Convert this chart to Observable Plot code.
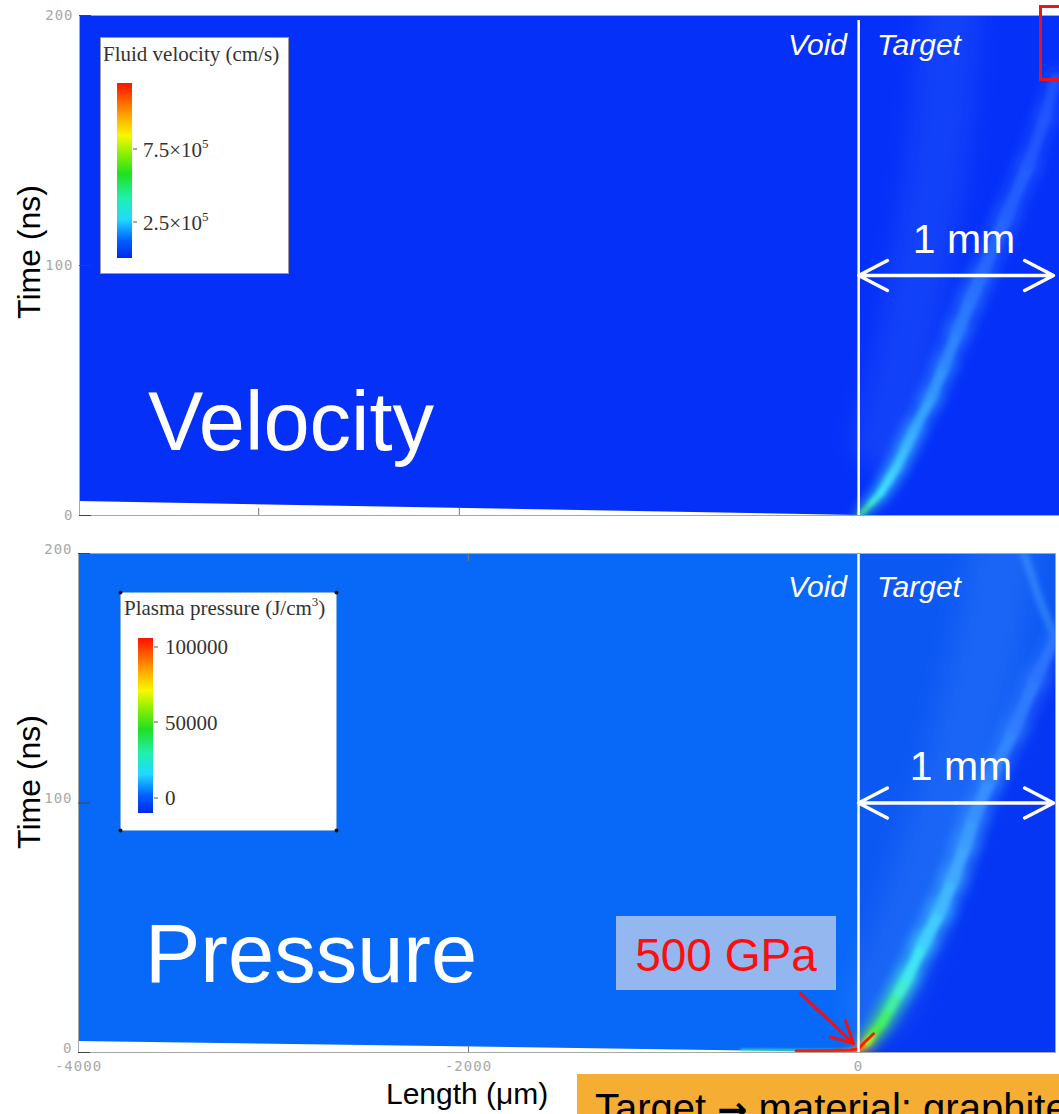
<!DOCTYPE html>
<html><head><meta charset="utf-8">
<script src="https://cdn.jsdelivr.net/npm/d3@7"></script>
<script src="https://cdn.jsdelivr.net/npm/@observablehq/plot@0.6"></script>
<style>
body{margin:0;background:#fff;}
#wrap{position:relative;width:1059px;height:1114px;overflow:hidden;background:#fff;font-family:"Liberation Sans",Arial,sans-serif;}
#wrap > svg{position:absolute;left:0;}
</style></head><body><div id="wrap"></div>
<script>
// ---- axes ----
const yTicks = [0, 100, 200];
const xTicksBottom = [-4000, -2000, 0];
const xTicksTopPanel = [-3080, -2050];
const xInnerTicksBottom = [-2000];

// ---- white (empty) wedge at the bottom-left: length (µm), time (ns) ----
const wedgeTopX = [-4000, 0];
const wedgeTopT = [5.6, 0];
const wedgeBotX = [-4000, 0];
const wedgeBotT = [4.4, 0];

// ---- velocity front (top panel) ----
const velT = [0, 1, 5, 9, 14, 20, 27, 34, 47, 60, 74, 87, 96, 120, 140, 160, 175];
const velX = [0, 18, 65, 113, 152, 199, 241, 284, 371, 440, 511, 578, 630, 760, 870, 960, 1010];
const velC = ["#40e040","#40f0a0","#40f0e0","#40e8ff","#40d8ff","#40c8ff","#3cb8ff","#38a8ff","#3498ff","#3088ff","#2c7cff","#2a72ff","#2868ff","#2460ff","#2258ff","#2054ff","#1e50ff"];
const velW = [3, 4, 5, 6, 7, 7, 8, 8, 9, 9, 10, 10, 10, 10, 9, 8, 8];
const velGlowT = [30, 60, 100, 140, 180, 200];
const velGlowX = [120, 220, 320, 400, 450, 470];

// ---- pressure front (bottom panel) ----
const presT = [0, 1.6, 4, 7.6, 12, 18, 24, 30, 43.6, 57, 70, 83.6, 94, 110, 130, 150, 166];
const presX = [0, 10, 45, 77, 120, 164, 208, 251, 333, 420, 487, 549, 590, 680, 800, 910, 1010];
const presC = ["#ff2000","#ff9000","#a0ff20","#50f040","#40f070","#40f0a0","#40f0d0","#40e8f0","#40d0ff","#40b8ff","#40a8ff","#3c9cff","#3890ff","#3486ff","#307cff","#2c74ff","#2a70ff"];
const presW = [4, 5, 6, 7, 8, 8, 9, 9, 10, 10, 10, 10, 10, 10, 10, 9, 9];
const presGlowT = [20, 50, 90, 130, 170, 200];
const presGlowX = [100, 250, 420, 560, 680, 740];
const redX = [-320, -150, -40, 0, 30, 77];
const redT = [0.7, 0.8, 1.0, 1.5, 4, 7.5];
const edgeGlowX = [-600, -300, -100, 0];
const edgeGlowT = [0.9, 0.8, 0.8, 1.2];
const reflT = [166, 180, 195, 200];
const reflX = [1010, 935, 870, 848];

// ---- annotations (data coords) ----
const scaleBarTopT = 96, scaleBarBotT = 100, scaleBarLen = 1000;
const gpaArrow = [{x1: -297, t1: 23.6, x2: -26, t2: 3.6}];

const pts = (X, T) => X.map((x, i) => ({x, t: T[i]}));
const segs = (X, T, C, W, k = 1) => X.slice(1).map((x, i) => ({x1: X[i], y1: T[i], x2: x, y2: T[i + 1], c: C[i], w: W[i] * k}));

function finish(svg, p) {
  const ns = "http://www.w3.org/2000/svg";
  const defs = document.createElementNS(ns, "defs");
  [["s1", 1.2], ["s2", 2], ["s3", 3], ["s6", 6], ["s12", 12]].forEach(([id, sd]) => {
    const f = document.createElementNS(ns, "filter");
    f.setAttribute("id", p + id);
    f.setAttribute("filterUnits", "userSpaceOnUse");
    f.setAttribute("x", "0"); f.setAttribute("y", "0");
    f.setAttribute("width", "1100"); f.setAttribute("height", "600");
    const g = document.createElementNS(ns, "feGaussianBlur");
    g.setAttribute("stdDeviation", sd);
    f.appendChild(g); defs.appendChild(f);
  });
  svg.insertBefore(defs, svg.firstChild);
  svg.querySelectorAll("[aria-description]").forEach(el => {
    const d = el.getAttribute("aria-description");
    if (/^s\d+$/.test(d)) el.setAttribute("filter", `url(#${p}${d})`);
  });
  svg.querySelectorAll("text").forEach(t => {
    t.style.fontSize = "14px";
    t.style.fontFamily = "DejaVu Sans Mono";
    t.style.letterSpacing = "1px";
  });
}

const plotStyle = {background: "transparent"};
const fmt = d => String(d);
const yAxis = (pad) => [
  Plot.axisY(yTicks, {anchor: "left", tickSize: 0, tickPadding: 6, tickFormat: fmt, color: "#a8a8a8", dy: pad}),
  Plot.axisY(yTicks, {anchor: "left", tickSize: 12, dx: 12, tickFormat: () => "", color: "#444"})
];
const linkOpts = {x1: "x1", y1: "y1", x2: "x2", y2: "y2", stroke: "c", strokeWidth: "w", strokeLinecap: "round", clip: true};

// ================= TOP PANEL: velocity =================
const topSvg = Plot.plot({
  width: 1059, height: 530,
  marginLeft: 79, marginRight: 0, marginTop: 15, marginBottom: 15,
  x: {domain: [-4000, 1031]},
  y: {domain: [0, 200]},
  color: {type: "identity"},
  style: plotStyle,
  marks: [
    Plot.frame({fill: "#0530f8"}),
    Plot.line(pts(velGlowX, velGlowT), {x: "x", y: "t", stroke: "#3f80ff", strokeWidth: 60, strokeOpacity: 0.22, curve: "catmull-rom", clip: true, ariaDescription: "s12"}),
    Plot.link(segs(velX, velT, velC, velW, 2.8), {...linkOpts, strokeOpacity: 0.45, ariaDescription: "s6"}),
    Plot.link(segs(velX, velT, velC, velW, 1.2), {...linkOpts, strokeOpacity: 0.9, ariaDescription: "s2"}),
    Plot.areaY(pts(wedgeTopX, wedgeTopT), {x: "x", y1: 0, y2: "t", fill: "white"}),
    Plot.ruleX([0], {y1: 198, y2: 0, stroke: "white", strokeWidth: 2.5}),
    Plot.arrow([{a: scaleBarLen / 2, b: 0}, {a: scaleBarLen / 2, b: scaleBarLen}], {x1: "a", x2: "b", y1: scaleBarTopT, y2: scaleBarTopT, stroke: "white", strokeWidth: 3.5, headLength: 17, headAngle: 55}),
    Plot.frame({stroke: "#a8a8a8"}),
    ...yAxis(0),
    Plot.axisX(xTicksTopPanel, {anchor: "bottom", tickSize: 7, dy: -7, tickFormat: () => "", color: "#777"})
  ]
});
topSvg.style.top = "0px";
finish(topSvg, "t");

// ================= BOTTOM PANEL: pressure =================
const botSvg = Plot.plot({
  width: 1059, height: 540,
  marginLeft: 78, marginRight: 4, marginTop: 15, marginBottom: 26,
  x: {domain: [-4000, 1010]},
  y: {domain: [0, 200]},
  color: {type: "identity"},
  style: plotStyle,
  marks: [
    Plot.rect([{x1: -4000, x2: 0, c: "#0868f8"}, {x1: 0, x2: 1010, c: "#0c58f3"}], {x1: "x1", x2: "x2", y1: 0, y2: 200, fill: "c"}),
    Plot.areaX(pts(presX, presT), {x1: "x", x2: 1010, y: "t", fill: "#0536f4", curve: "catmull-rom", clip: true}),
    Plot.line(pts(presGlowX, presGlowT), {x: "x", y: "t", stroke: "#4a90ff", strokeWidth: 70, strokeOpacity: 0.22, curve: "catmull-rom", clip: true, ariaDescription: "s12"}),
    Plot.line(pts(reflX, reflT), {x: "x", y: "t", stroke: "#4a9cff", strokeWidth: 6, strokeOpacity: 0.7, curve: "catmull-rom", clip: true, ariaDescription: "s3"}),
    Plot.link(segs(presX, presT, presC, presW, 2.8), {...linkOpts, strokeOpacity: 0.45, ariaDescription: "s6"}),
    Plot.link(segs(presX, presT, presC, presW, 1.2), {...linkOpts, strokeOpacity: 0.95, ariaDescription: "s2"}),
    Plot.areaY(pts(wedgeBotX, wedgeBotT), {x: "x", y1: 0, y2: "t", fill: "white"}),
    Plot.line(pts(edgeGlowX, edgeGlowT), {x: "x", y: "t", stroke: "#50f0a0", strokeWidth: 3, strokeOpacity: 0.7, clip: true, ariaDescription: "s1"}),
    Plot.line(pts(redX, redT), {x: "x", y: "t", stroke: "#ff1a00", strokeWidth: 3, clip: true}),
    Plot.ruleX([0], {y1: 200, y2: 0, stroke: "white", strokeWidth: 2.5}),
    Plot.arrow([{a: scaleBarLen / 2, b: 0}, {a: scaleBarLen / 2, b: scaleBarLen}], {x1: "a", x2: "b", y1: scaleBarBotT, y2: scaleBarBotT, stroke: "white", strokeWidth: 3.5, headLength: 17, headAngle: 55}),
    Plot.arrow(gpaArrow, {x1: "x1", y1: "t1", x2: "x2", y2: "t2", stroke: "#ee1111", strokeWidth: 3, headLength: 14, headAngle: 55}),
    Plot.frame({stroke: "#a8a8a8"}),
    ...yAxis(-4),
    Plot.axisX(xTicksBottom, {anchor: "bottom", tickSize: 0, tickPadding: 9, tickFormat: fmt, color: "#a8a8a8"}),
    Plot.axisX(xInnerTicksBottom, {anchor: "bottom", tickSize: 7, dy: -7, tickFormat: () => "", color: "#777"}),
    Plot.axisX(xInnerTicksBottom, {anchor: "top", tickSize: 7, dy: 7, tickFormat: () => "", color: "#777"})
  ]
});
botSvg.style.top = "538px";
finish(botSvg, "b");

const wrap = document.getElementById("wrap");
wrap.appendChild(topSvg);
wrap.appendChild(botSvg);

// ================= overlay annotations =================
const jet = `<stop offset="0" stop-color="#0028e8"/><stop offset="0.1" stop-color="#0060ff"/><stop offset="0.22" stop-color="#20d8ff"/><stop offset="0.34" stop-color="#20f0b0"/><stop offset="0.48" stop-color="#20e020"/><stop offset="0.6" stop-color="#90f000"/><stop offset="0.7" stop-color="#f8f800"/><stop offset="0.82" stop-color="#ffa000"/><stop offset="0.92" stop-color="#ff5000"/><stop offset="1" stop-color="#ff1000"/>`;
const ov = `
<svg width="1059" height="1114" style="top:0;pointer-events:none" xmlns="http://www.w3.org/2000/svg">
<defs><linearGradient id="jet" x1="0" y1="1" x2="0" y2="0">${jet}</linearGradient></defs>
<g font-family="Liberation Sans, Arial, sans-serif" fill="white">
  <text x="148" y="450" font-size="83">Velocity</text>
  <text x="145" y="982" font-size="83">Pressure</text>
  <text x="847" y="55" font-size="30" font-style="italic" text-anchor="end">Void</text>
  <text x="877" y="55" font-size="30" font-style="italic">Target</text>
  <text x="847" y="597" font-size="30" font-style="italic" text-anchor="end">Void</text>
  <text x="877" y="597" font-size="30" font-style="italic">Target</text>
  <text x="964" y="253" font-size="41" text-anchor="middle">1 mm</text>
  <text x="961" y="780" font-size="41" text-anchor="middle">1 mm</text>
</g>
<rect x="1040.5" y="6.5" width="40" height="73" fill="none" stroke="#e8141c" stroke-width="3"/>
<g font-family="Liberation Sans, Arial, sans-serif" fill="#000">
  <text transform="translate(40,252) rotate(-90)" font-size="32" text-anchor="middle">Time (ns)</text>
  <text transform="translate(40,782) rotate(-90)" font-size="32" text-anchor="middle">Time (ns)</text>
  <text x="386" y="1104" font-size="30">Length (μm)</text>
</g>
<rect x="577" y="1074" width="520" height="60" fill="#f5ad34"/>
<text x="595" y="1122" font-size="40" font-family="Liberation Sans, Arial, sans-serif" fill="#000">Target <tspan font-family="DejaVu Sans" font-weight="bold" font-size="36">→</tspan> material: graphite</text>
<rect x="616" y="916" width="220" height="74" fill="#95b7ef"/>
<text x="726" y="971" font-size="46" font-family="Liberation Sans, Arial, sans-serif" fill="#ff0d0d" text-anchor="middle">500 GPa</text>
<!-- velocity legend -->
<rect x="100.5" y="37.5" width="188" height="236" fill="white" stroke="#9a9a9a"/>
<g font-family="Liberation Serif, Times New Roman, serif" fill="#333" font-size="21">
  <text x="103" y="61">Fluid velocity (cm/s)</text>
  <text x="143" y="157">7.5×10<tspan font-size="13" dy="-9">5</tspan></text>
  <text x="143" y="230">2.5×10<tspan font-size="13" dy="-9">5</tspan></text>
</g>
<rect x="117" y="83" width="15" height="175" fill="url(#jet)"/>
<g stroke="#555"><line x1="133" x2="137" y1="149" y2="149"/><line x1="133" x2="137" y1="222" y2="222"/></g>
<!-- pressure legend -->
<rect x="120.5" y="592.5" width="216" height="238" fill="white" stroke="#7fb0e8"/>
<g fill="#111"><circle cx="120.5" cy="592.5" r="2"/><circle cx="336.5" cy="592.5" r="2"/><circle cx="120.5" cy="830.5" r="2"/><circle cx="336.5" cy="830.5" r="2"/></g>
<g font-family="Liberation Serif, Times New Roman, serif" fill="#333" font-size="21">
  <text x="124" y="615">Plasma pressure (J/cm<tspan font-size="13" dy="-9">3</tspan><tspan dy="9">)</tspan></text>
  <text x="165" y="654">100000</text>
  <text x="165" y="730">50000</text>
  <text x="165" y="805">0</text>
</g>
<rect x="138" y="638" width="15" height="175" fill="url(#jet)"/>
<g stroke="#555"><line x1="154" x2="158" y1="647" y2="647"/><line x1="154" x2="158" y1="722" y2="722"/><line x1="154" x2="158" y1="798" y2="798"/></g>
</svg>`;
wrap.insertAdjacentHTML("beforeend", ov);
</script></body></html>
